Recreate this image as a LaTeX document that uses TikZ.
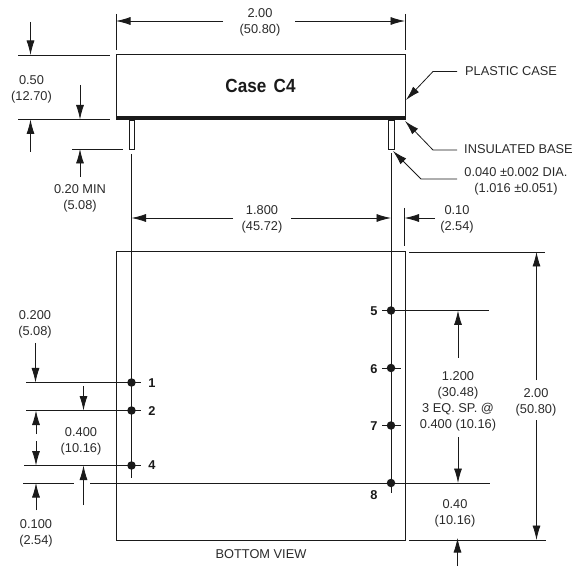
\documentclass[tikz,border=0pt]{standalone}
\usepackage{fontspec}
\setmainfont{Liberation Sans}
\usetikzlibrary{arrows.meta}
\definecolor{ink}{HTML}{1A1A1A}
\definecolor{txt}{HTML}{2A2A2A}
\tikzset{
  ln/.style={draw=ink,line width=0.8pt},
  dim/.style={ln,-{Latex[length=14.5pt,width=8pt]}},
  outl/.style={draw=ink,line width=1pt,fill=white},
  lab/.style={inner sep=0pt,align=center,yshift=-1.5pt,font=\fontsize{12.8}{16}\selectfont,text=txt},
  llab/.style={inner sep=0pt,anchor=west,font=\fontsize{12.8}{16}\selectfont,text=txt},
  pinno/.style={inner sep=0pt,font=\fontsize{12.8}{14}\selectfont\bfseries,text=ink},
  pindot/.style={circle,fill=ink,draw=none,inner sep=0pt,minimum size=8.5pt}
}
\begin{document}
\begin{tikzpicture}[x=1pt,y=-1pt]
\useasboundingbox (0,0) rectangle (582,567);
% case
\draw[outl] (116.5,55) rectangle (405.5,118);
\fill[ink] (116,116) rectangle (406,120);
\node[inner sep=0pt,xscale=0.9,font=\fontsize{19}{20}\selectfont\bfseries,text=ink] (title) at (260.5,85.5) {Case\hspace{3pt} C4};
% pins
\draw[ln] (129,120) rectangle (134,149);
\draw[ln] (388,120) rectangle (394,149);
% bottom view
\draw[outl,fill=none] (116.5,252) rectangle (405.5,540.5);
% pin lines
\draw[ln] (131.5,154) -- (131.5,478);
\draw[ln] (391,153) -- (391,493);
% top dim
\draw[ln] (116,14) -- (116,50);
\draw[ln] (405,14) -- (405,50);
\draw[dim] (223,21) -- (116,21);
\draw[dim] (295,21) -- (405,21);
\node[lab] (t1) at (260,21) {2.00\\(50.80)};
% left height
\draw[ln] (18,55) -- (110,55);
\draw[ln] (18,119.5) -- (110,119.5);
\draw[dim] (30.5,22) -- (30.5,55);
\draw[dim] (80,85) -- (80,119.5);
\draw[dim] (30.5,152) -- (30.5,119.5);
\node[lab] (t2) at (31.5,88) {0.50\\(12.70)};
% 0.20 MIN
\draw[ln] (72,149) -- (123,149);
\draw[dim] (80,177) -- (80,149);
\node[lab] (t3) at (80,197) {0.20 MIN\\(5.08)};
% 1.800
\draw[dim] (233,218) -- (131.5,218);
\draw[dim] (291,218) -- (391,218);
\node[lab] (t4) at (262,218) {1.800\\(45.72)};
% 0.10
\draw[ln] (404.5,208) -- (404.5,246);
\draw[dim] (435,218) -- (404.5,218);
\node[lab] (t5) at (457,218) {0.10\\(2.54)};
% leaders
\draw[dim] (457,71.5) -- (433,71.5) -- (406,100);
\draw[dim] (457,150) -- (433,150) -- (405,121);
\draw[dim] (457,179) -- (421,179) -- (393,151);
\node[llab] (t6) at (465,71) {PLASTIC CASE};
\node[llab] (t7) at (464,149) {INSULATED BASE};
\node[lab] (t8) at (516,180) {0.040 ±0.002 DIA.\\(1.016 ±0.051)};
% right overall
\draw[ln] (409,252) -- (545,252);
\draw[ln] (409,540) -- (546,540);
\draw[dim] (536.5,420) -- (536.5,540);
\draw[dim] (536.5,380) -- (536.5,252);
\node[lab] (t9) at (536,401) {2.00\\(50.80)};
% right pins
\draw[ln] (382,310.5) -- (489,310.5);
\draw[ln] (382,368) -- (401,368);
\draw[ln] (382,425.5) -- (401,425.5);
\draw[ln] (90,483) -- (490,483);
\draw[ln] (23,483) -- (74,483);
\node[pindot] (p5) at (391,310.5) {};
\node[pindot] (p6) at (391,368) {};
\node[pindot] (p7) at (391,425.5) {};
\node[pindot] (p8) at (391,483) {};
\node[pinno] (n5) at (374,311) {5};
\node[pinno] (n6) at (374,369) {6};
\node[pinno] (n7) at (374,426) {7};
\node[pinno] (n8) at (374,495) {8};
\draw[dim] (458,358) -- (458,310.5);
\draw[dim] (458,437) -- (458,483);
\node[lab] (t10) at (458,399.5) {1.200\\(30.48)\\3 EQ. SP. @\\0.400 (10.16)};
\node[lab] (t11) at (455,512) {0.40\\(10.16)};
\draw[dim] (457.5,566) -- (457.5,538);
\node[lab] (t12) at (261,553) {BOTTOM VIEW};
% left pins
\draw[ln] (26,382.5) -- (141,382.5);
\draw[ln] (26,410.5) -- (141,410.5);
\draw[ln] (24,465.5) -- (141,465.5);
\node[pindot] (p1) at (131.5,382.5) {};
\node[pindot] (p2) at (131.5,410.5) {};
\node[pindot] (p4) at (131.5,465.5) {};
\node[pinno] (n1) at (152,383) {1};
\node[pinno] (n2) at (152,411) {2};
\node[pinno] (n4) at (152,465) {4};
\draw[dim] (35.5,343) -- (35.5,382.5);
\node[lab] (t13) at (35,323) {0.200\\(5.08)};
\draw[dim] (83.5,386) -- (83.5,410.5);
\draw[dim] (36,434) -- (36,410.5);
\draw[dim] (36,441) -- (36,465.5);
\draw[dim] (83.5,505) -- (83.5,465.5);
\draw[dim] (36,510) -- (36,483);
\node[lab] (t14) at (81,440) {0.400\\(10.16)};
\node[lab] (t15) at (36,531.5) {0.100\\(2.54)};
\end{tikzpicture}
\end{document}
